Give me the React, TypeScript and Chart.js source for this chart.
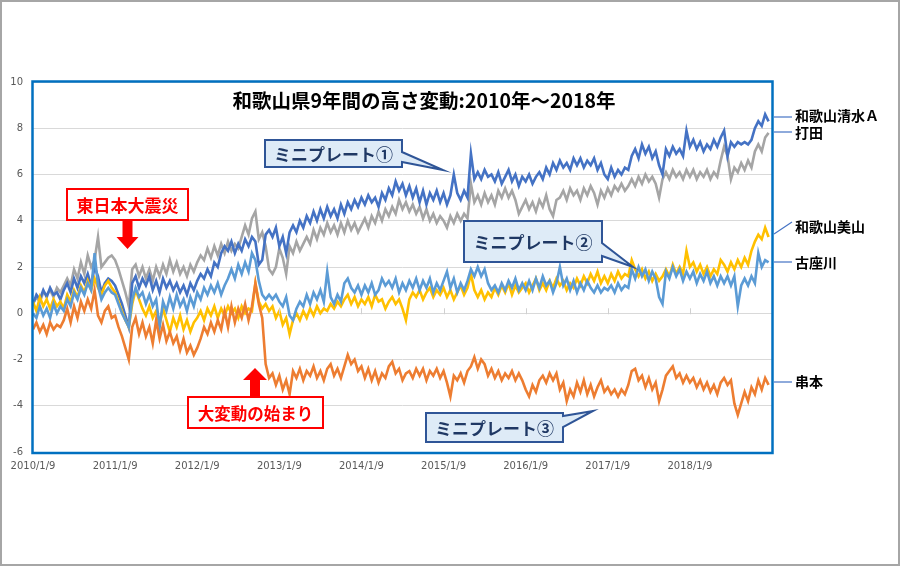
import React, { useEffect, useRef } from 'react';
import { Chart, registerables } from 'chart.js';

Chart.register(...registerables);

// ---- categories / ticks ----
const YEAR_LABELS = ['2010/1/9', '2011/1/9', '2012/1/9', '2013/1/9', '2014/1/9', '2015/1/9', '2016/1/9', '2017/1/9', '2018/1/9'];
const SAMPLES_PER_YEAR = 24; // roughly half-monthly samples from 2010/1/9
const Y_MIN = -6;
const Y_MAX = 10;
const Y_STEP = 2;

const TITLE = '和歌山県9年間の高さ変動:2010年～2018年';

// ---- series values ----
const shimizuA = [
  0.4, 0.8, 0.6, 1.0, 0.7, 1.1, 0.8, 0.9, 0.6, 1.0, 1.3, 0.9, 1.5, 1.1, 1.6, 1.3, 1.7, 1.2, 2.0, 1.6, 0.9, 1.3, 1.5, 1.4,
  1.2, 0.8, 0.4, -0.1, -0.6, 1.3, 1.6, 1.1, 1.5, 1.2, 1.6, 1.0, 1.4, 0.9, 1.5, 1.1, 1.4, 1.0, 1.3, 0.9, 1.2, 0.8, 1.3, 1.0,
  1.4, 1.7, 1.5, 1.9, 1.6, 2.2, 2.0, 2.6, 2.9, 2.7, 3.1, 2.6, 3.0, 2.7, 3.2, 2.9, 3.3, 3.1, 2.1, 2.3, 3.4, 3.6, 3.3, 3.7,
  2.9, 3.3, 2.6, 3.5, 3.8, 3.5, 4.0, 3.7, 4.2, 3.9, 4.4, 4.0, 4.5, 4.1, 4.6, 4.2, 4.5, 4.1, 4.7, 4.3, 4.8, 4.5, 4.9, 4.6,
  5.0, 4.7, 5.1, 4.8, 5.0, 4.6, 5.2, 4.9, 5.4, 5.1, 5.7, 5.3, 5.6, 5.1, 5.5, 5.0, 5.4, 4.8, 5.3, 4.7, 5.2, 4.9, 5.3, 4.8,
  5.2, 4.7, 5.1, 6.0, 5.2, 4.9, 5.3, 5.0, 6.9, 5.8, 6.1, 5.8, 6.2, 5.9, 6.0, 5.7, 6.1, 5.6, 5.9, 6.2, 5.7, 6.0, 5.5, 5.9,
  5.7, 6.0, 5.6, 5.9, 6.1, 5.8, 6.3, 6.0, 6.5, 6.2, 6.6, 6.3, 6.5, 6.2, 6.7, 6.4, 6.7, 6.3, 6.6, 6.4, 6.7, 6.2, 6.5, 6.0,
  5.8, 6.3, 5.9, 6.2, 6.0, 6.3, 6.2, 6.8, 7.1, 6.7, 7.3, 6.9, 7.2, 6.7, 7.0, 6.4, 6.0, 7.1, 6.8, 7.2, 6.9, 7.1, 6.8, 7.9,
  7.2, 7.5, 7.1, 7.4, 7.0, 7.3, 7.1, 7.5, 7.2, 7.6, 7.9, 6.8, 7.4, 7.2, 7.4, 7.3, 7.4, 7.3, 7.5, 8.0, 8.3, 8.1, 8.6, 8.3,
];

const uchita = [
  0.4, 0.7, 0.5, 0.9, 0.8, 1.0, 0.7, 1.1, 0.9, 1.2, 1.5, 1.2, 1.9, 1.5, 2.2, 1.7, 2.5, 2.0, 2.3, 3.3, 2.0, 2.2, 2.4, 2.5,
  2.3, 1.9, 1.4, 0.9, 0.3, 1.9, 2.1, 1.6, 2.0, 1.5, 1.9, 1.4, 2.0, 1.6, 2.1, 1.7, 2.3, 1.8, 2.2, 1.7, 2.0, 1.6, 2.1, 1.8,
  2.2, 2.5, 2.3, 2.8, 2.4, 2.9, 2.5, 3.0, 2.6, 3.1, 2.7, 3.0, 2.8, 3.3, 3.8, 3.4, 4.1, 4.4, 3.2, 3.5, 2.9, 1.9, 1.7, 2.0,
  2.8, 2.4, 1.7, 2.9, 2.6, 3.1, 2.7, 3.0, 3.3, 3.0, 3.6, 3.2, 3.7, 3.4, 3.9, 3.5, 3.8, 3.4, 3.9, 3.5, 4.0, 3.6, 3.9, 3.5,
  3.8, 4.1, 3.7, 4.2, 3.9, 4.4, 4.0, 4.5, 4.2, 4.6, 4.3, 4.9, 4.5, 4.8, 4.4, 4.7, 4.3, 4.6, 4.1, 4.5, 4.0, 4.3, 3.9, 4.2,
  4.0, 3.7, 4.2, 3.9, 4.3, 4.0, 4.3, 4.1, 5.6, 4.8, 5.1, 4.7, 5.2, 4.8, 5.1, 4.7, 5.3, 5.0, 5.4, 5.0, 5.3, 4.9, 4.3, 4.6,
  4.9, 4.5, 4.8, 4.4, 4.9, 4.6, 5.1, 4.5, 4.2, 4.9, 5.0, 5.3, 4.9, 5.4, 5.1, 5.3, 4.9, 5.4, 5.1, 5.5, 5.2, 4.7, 5.3, 5.0,
  5.4, 5.1, 5.5, 5.3, 5.6, 5.3, 5.5, 5.8, 5.5, 5.9, 5.6, 6.0, 5.7, 5.9, 5.6, 5.0, 5.8, 6.1, 5.8, 6.2, 5.9, 6.1, 5.8, 6.2,
  5.9, 6.2, 5.8, 6.1, 5.9, 6.2, 5.8, 6.1, 5.9, 6.6, 7.2, 6.8, 5.8, 6.3, 6.1, 6.5, 6.2, 6.6, 6.3, 7.0, 7.3, 7.0, 7.6, 7.8,
];

const miyama = [
  0.5, 0.1, 0.7, 0.3, 0.6, 0.2, 0.6, 0.3, 0.5, 0.2, 0.8, 0.5, 1.0, 0.7, 1.2, 0.9, 1.4, 1.0, 1.5, 1.1, 0.8, 1.2, 1.4, 1.1,
  0.9, 0.5, 0.1, -0.3, -0.6, 0.4, 1.0, 0.6, 0.2, -0.1, 0.3, -0.2, 0.1, -0.5, 0.2, -0.3, -0.8, -0.2, -0.6, -0.1, -0.7, -0.3, -0.8, -0.4,
  -0.2, 0.1, -0.3, 0.2, -0.1, 0.3, -0.2, 0.2, -0.1, 0.3, 0.0, 0.2, -0.2, 0.3, 0.0, 0.2, 0.1, 1.3, 0.5, 0.2, 0.4, 0.1, 0.3, -0.2,
  0.1, -0.5, -0.2, -0.9, -0.3, 0.0, -0.3, 0.1, -0.2, 0.2, -0.1, 0.3, 0.0, 0.2, 0.1, 0.4, 0.2, 0.5, 0.3, 0.6, 0.8, 0.4, 0.7, 0.3,
  0.6, 0.4, 0.7, 0.3, 0.8, 0.5, 0.6, 0.2, 0.5, 0.7, 0.4, 0.6, 0.2, -0.3, 0.6, 0.9, 0.7, 1.0, 0.6, 0.9, 1.1, 0.7, 1.0, 0.8,
  1.1, 0.7, 1.0, 0.6, 0.9, 1.2, 0.8, 1.1, 1.7, 1.0, 0.7, 1.0, 0.6, 0.9, 0.7, 1.1, 0.8, 1.2, 0.9, 1.3, 0.8, 1.2, 0.9, 1.1,
  1.3, 0.9, 1.2, 1.5, 1.0, 1.3, 1.0, 1.4, 1.1, 1.5, 1.2, 1.4, 1.0, 1.3, 1.1, 1.5, 1.2, 1.6, 1.3, 1.7, 1.4, 1.8, 1.3, 1.6,
  1.3, 1.7, 1.4, 1.8, 1.5, 1.7, 1.6, 2.3, 1.9, 1.6, 1.9, 1.5, 1.8, 1.4, 1.7, 1.4, 1.6, 1.9, 1.6, 2.1, 1.7, 2.0, 1.7, 2.7,
  2.0, 2.2, 1.8, 2.1, 1.7, 2.0, 1.6, 1.9, 1.7, 2.3, 2.1, 1.8, 2.2, 1.9, 2.3, 2.0, 2.4, 2.1, 2.7, 3.1, 3.4, 3.2, 3.7, 3.3,
];

const kozagawa = [
  0.0, -0.2, 0.3, -0.1, 0.2, -0.2, 0.4, 0.0, 0.3, 0.1, 0.6, 0.3, 0.9, 0.6, 1.1, 0.8, 1.3, 1.0, 2.6, 1.2, 0.6, 0.9, 1.1, 0.9,
  0.8, 0.4, 0.0, -0.3, -0.6, 0.6, 1.1, 0.7, 0.9, 0.4, 0.8, 0.3, 0.6, -0.6, 0.5, 0.1, 0.7, 0.2, 0.8, 0.3, 0.6, 0.1, 0.7, 0.3,
  0.9, 0.6, 1.1, 0.8, 1.2, 0.9, 1.3, 0.8, 1.2, 1.5, 1.9, 1.5, 2.1, 1.7, 2.2, 1.8, 2.6, 2.3, 1.4, 0.8, 0.6, 0.8, 0.6, 0.8,
  0.5, 0.3, 0.7, -0.1, -0.3, 0.2, 0.5, 0.3, 0.8, 0.4, 0.9, 0.6, 1.0, 0.5, 1.8, 0.7, 0.4, 0.8, 0.5, 1.3, 1.5, 1.1, 0.9, 1.2,
  0.8, 1.2, 0.9, 1.3, 0.8, 1.0, 1.5, 1.2, 1.4, 1.1, 1.5, 0.9, 1.3, 1.0, 1.4, 1.1, 1.5, 1.0, 1.4, 1.1, 1.5, 0.9, 1.3, 1.0,
  1.4, 1.8, 1.1, 1.5, 0.9, 1.3, 1.0, 1.4, 1.9, 1.6, 2.0, 1.6, 1.9, 1.3, 1.0, 1.2, 0.9, 1.3, 1.0, 1.4, 1.1, 1.5, 1.0, 1.3,
  1.0, 1.4, 1.0, 1.5, 1.1, 1.6, 1.2, 1.4, 0.9, 1.3, 2.0, 1.2, 1.5, 1.0, 1.4, 0.9, 1.3, 1.0, 1.4, 1.1, 0.9, 1.2, 0.9, 1.1,
  1.0, 1.2, 0.9, 1.3, 1.0, 1.2, 1.1, 1.9, 1.5, 2.0, 1.6, 1.9, 1.4, 1.8, 1.5, 0.7, 0.4, 1.8, 1.5, 2.0, 1.6, 1.9, 1.4, 1.8,
  1.5, 1.8, 1.3, 1.7, 1.4, 1.8, 1.3, 1.6, 1.2, 1.6, 1.3, 1.6, 1.2, 1.6, 0.3, 1.2, 1.5, 1.2, 1.6, 1.3, 2.6, 2.0, 2.3, 2.2,
];

const kushimoto = [
  -0.7, -0.4, -0.8, -0.5, -0.9, -0.4, -0.7, -0.5, -0.6, -0.3, 0.2, -0.4, 0.3, -0.2, 0.5, 0.1, 0.6, 0.2, 1.0, -0.1, -0.4, 0.1, 0.3, -0.2,
  -0.1, -0.6, -1.0, -1.5, -2.0, -0.6, -0.2, -0.9, -0.4, -1.0, -0.6, -1.3, -0.3, -1.1, -0.5, -1.2, -0.8, -1.3, -1.0, -1.6, -1.1, -1.7, -1.4, -1.8,
  -1.5, -1.1, -0.6, -0.9, -0.4, -0.8, -0.3, -0.7, 0.1, -0.6, 0.3, -0.4, 0.2, -0.2, 0.4, -0.3, 0.3, 1.3, 0.4, -0.2, -2.2, -2.8, -2.6, -3.1,
  -2.7, -3.3, -2.9, -3.5, -2.5, -2.8, -2.4, -2.9, -2.5, -2.7, -2.3, -2.8, -2.5, -2.9, -2.4, -2.2, -2.7, -2.4, -2.8, -2.3, -1.8, -2.2, -2.0, -2.5,
  -2.3, -2.8, -2.4, -2.9, -2.5, -3.0, -2.6, -2.8, -2.3, -2.1, -2.6, -2.4, -2.9, -2.6, -2.5, -2.8, -2.4, -2.7, -2.4, -2.9, -2.5, -2.7, -2.4, -2.8,
  -2.5, -3.0, -3.6, -2.7, -2.9, -2.6, -3.0, -2.5, -2.3, -1.9, -2.4, -2.0, -2.2, -2.7, -2.4, -2.8, -2.5, -2.9, -2.6, -2.8, -2.5, -2.9, -2.6, -2.9,
  -3.3, -3.6, -3.1, -3.4, -2.9, -2.7, -3.0, -2.6, -2.9, -2.6, -3.3, -3.0, -3.8, -3.3, -3.6, -3.0, -3.4, -2.9, -3.5, -3.1, -3.6, -3.2, -2.9, -3.4,
  -3.2, -3.5, -3.3, -3.6, -3.3, -3.5, -3.1, -2.5, -2.4, -2.9, -2.7, -3.2, -2.8, -3.3, -3.0, -3.8, -3.3, -2.7, -2.5, -2.3, -2.8, -2.6, -3.0, -2.7,
  -3.0, -2.8, -3.2, -2.9, -3.3, -3.0, -3.4, -3.1, -3.5, -3.0, -2.8, -3.1, -2.9, -3.9, -4.4, -3.9, -3.4, -3.8, -3.2, -3.5, -2.9, -3.3, -2.8, -3.1,
];

const SERIES_NAMES = ['串本', '古座川', '和歌山美山', '和歌山清水Ａ', '打田'];
const SERIES_VALUES = [kushimoto, kozagawa, miyama, shimizuA, uchita];
const SERIES_COLORS = ['#ED7D31', '#5B9BD5', '#FFC000', '#4472C4', '#A5A5A5'];

type Callout = { text: string; box: [number, number, number, number]; wedge: [number, number]; tip: [number, number] };
const MINI_PLATES: Callout[] = [
  { text: 'ミニプレート①', box: [265, 140, 402, 167], wedge: [152, 162], tip: [443, 170] },
  { text: 'ミニプレート②', box: [464, 221, 602, 262], wedge: [243, 256], tip: [633, 267] },
  { text: 'ミニプレート③', box: [426, 413, 563, 442], wedge: [416, 427], tip: [593, 411] },
];

const RIGHT_LABELS = [
  { text: '和歌山清水Ａ', ty: 116, line: [774, 117, 792, 117] },
  { text: '打田', ty: 133, line: [774, 132, 792, 132] },
  { text: '和歌山美山', ty: 227, line: [774, 234, 792, 222] },
  { text: '古座川', ty: 263, line: [774, 262, 792, 262] },
  { text: '串本', ty: 382, line: [774, 382, 792, 382] },
];

const JP = '"Noto Sans CJK JP", "Noto Sans", sans-serif';

const overlayPlugin = {
  id: 'overlay',
  afterDraw(chart: any) {
    const ctx: CanvasRenderingContext2D = chart.ctx;
    const { left, right, top, bottom } = chart.chartArea;
    const xs = chart.scales.x;
    const ys = chart.scales.y;
    ctx.save();

    // small tick marks on the zero line at each year
    const y0 = ys.getPixelForValue(0);
    ctx.strokeStyle = '#D0D0D0';
    ctx.lineWidth = 1;
    for (let k = 1; k < YEAR_LABELS.length; k++) {
      const px = Math.round(xs.getPixelForValue(k)) + 0.5;
      ctx.beginPath();
      ctx.moveTo(px, y0 - 5);
      ctx.lineTo(px, y0 + 1);
      ctx.stroke();
    }

    // plot frame
    ctx.strokeStyle = '#0070C0';
    ctx.lineWidth = 2.5;
    ctx.strokeRect(left - 0.5, top - 0.5, right - left + 1, bottom - top + 1.5);

    // outer border
    ctx.strokeStyle = '#A6A6A6';
    ctx.lineWidth = 2;
    ctx.strokeRect(1, 1, chart.width - 2, chart.height - 2);

    // title
    ctx.fillStyle = '#000000';
    ctx.textAlign = 'center';
    ctx.textBaseline = 'middle';
    ctx.font = `bold 19.5px ${JP}`;
    ctx.fillText(TITLE, 424, 101);

    // right series labels
    ctx.strokeStyle = '#4472C4';
    ctx.lineWidth = 1.2;
    ctx.textAlign = 'left';
    ctx.font = `bold 14px ${JP}`;
    ctx.fillStyle = '#000000';
    for (const l of RIGHT_LABELS) {
      ctx.beginPath();
      ctx.moveTo(l.line[0], l.line[1]);
      ctx.lineTo(l.line[2], l.line[3]);
      ctx.stroke();
      ctx.fillText(l.text, 795, l.ty);
    }

    // red arrows
    ctx.fillStyle = '#FF0000';
    ctx.beginPath();
    ctx.moveTo(122.5, 220);
    ctx.lineTo(132.5, 220);
    ctx.lineTo(132.5, 237);
    ctx.lineTo(138.5, 237);
    ctx.lineTo(127.5, 249);
    ctx.lineTo(116.5, 237);
    ctx.lineTo(122.5, 237);
    ctx.closePath();
    ctx.fill();

    ctx.beginPath();
    ctx.moveTo(255, 368);
    ctx.lineTo(267, 380);
    ctx.lineTo(260, 380);
    ctx.lineTo(260, 398);
    ctx.lineTo(250, 398);
    ctx.lineTo(250, 380);
    ctx.lineTo(243, 380);
    ctx.closePath();
    ctx.fill();

    // red boxes
    const redBox = (x0: number, y0b: number, x1: number, y1: number, text: string, size: number) => {
      ctx.fillStyle = '#FFFFFF';
      ctx.fillRect(x0, y0b, x1 - x0, y1 - y0b);
      ctx.strokeStyle = '#FF0000';
      ctx.lineWidth = 2;
      ctx.strokeRect(x0, y0b, x1 - x0, y1 - y0b);
      ctx.fillStyle = '#FF0000';
      ctx.textAlign = 'center';
      ctx.textBaseline = 'middle';
      ctx.font = `bold ${size}px ${JP}`;
      ctx.fillText(text, (x0 + x1) / 2, (y0b + y1) / 2 + 1);
    };
    redBox(67, 189, 188, 220, '東日本大震災', 17);
    redBox(188, 397, 323, 428, '大変動の始まり', 16.5);

    // mini plate callouts
    for (const c of MINI_PLATES) {
      const [x0, yb0, x1, yb1] = c.box;
      ctx.beginPath();
      ctx.moveTo(x0, yb0);
      ctx.lineTo(x1, yb0);
      ctx.lineTo(x1, c.wedge[0]);
      ctx.lineTo(c.tip[0], c.tip[1]);
      ctx.lineTo(x1, c.wedge[1]);
      ctx.lineTo(x1, yb1);
      ctx.lineTo(x0, yb1);
      ctx.closePath();
      ctx.fillStyle = '#DEEBF7';
      ctx.fill();
      ctx.strokeStyle = '#2F5597';
      ctx.lineWidth = 2;
      ctx.stroke();
      ctx.fillStyle = '#1F3864';
      ctx.textAlign = 'center';
      ctx.textBaseline = 'middle';
      ctx.font = `bold 17px ${JP}`;
      ctx.fillText(c.text, (x0 + x1) / 2, (yb0 + yb1) / 2 + 1);
    }

    ctx.restore();
  },
};

export default function App() {
  const canvasRef = useRef<HTMLCanvasElement | null>(null);

  useEffect(() => {
    document.body.style.margin = '0';
    const canvas = canvasRef.current;
    if (!canvas) return;

    const datasets = SERIES_VALUES.map((vals, s) => ({
      label: SERIES_NAMES[s],
      data: vals.map((v, i) => ({ x: i / SAMPLES_PER_YEAR, y: v })),
      borderColor: SERIES_COLORS[s],
      backgroundColor: SERIES_COLORS[s],
      borderWidth: 2.6,
      pointRadius: 0,
      tension: 0,
      fill: false,
    }));

    const chart = new Chart(canvas, {
      type: 'line',
      data: { datasets },
      options: {
        animation: false,
        responsive: false,
        devicePixelRatio: 1,
        layout: { padding: { top: 82, right: 128, bottom: 94, left: 0 } },
        plugins: {
          legend: { display: false },
          tooltip: { enabled: false },
          title: { display: false },
        },
        scales: {
          x: {
            type: 'linear',
            min: 0,
            max: YEAR_LABELS.length,
            grid: { display: false, drawTicks: false },
            border: { display: false },
            ticks: {
              stepSize: 1,
              autoSkip: false,
              maxRotation: 0,
              padding: 8,
              color: '#595959',
              font: { family: 'DejaVu Sans', size: 10 },
              callback: (v: any) => {
                const k = Math.round(Number(v));
                return k < YEAR_LABELS.length ? YEAR_LABELS[k] : '';
              },
            },
            afterFit: (scale: any) => {
              scale.height = 20;
            },
          },
          y: {
            min: Y_MIN,
            max: Y_MAX,
            grid: { color: '#D9D9D9', lineWidth: 1, drawTicks: false },
            border: { display: false },
            ticks: {
              stepSize: Y_STEP,
              padding: 10,
              color: '#595959',
              font: { family: 'DejaVu Sans', size: 10 },
            },
            afterFit: (scale: any) => {
              scale.width = 33;
            },
          },
        },
      },
      plugins: [overlayPlugin],
    });

    return () => chart.destroy();
  }, []);

  return (
    <div style={{ width: 900, height: 566, background: '#FFFFFF' }}>
      <canvas ref={canvasRef} width={900} height={566} style={{ display: 'block' }} />
    </div>
  );
}
